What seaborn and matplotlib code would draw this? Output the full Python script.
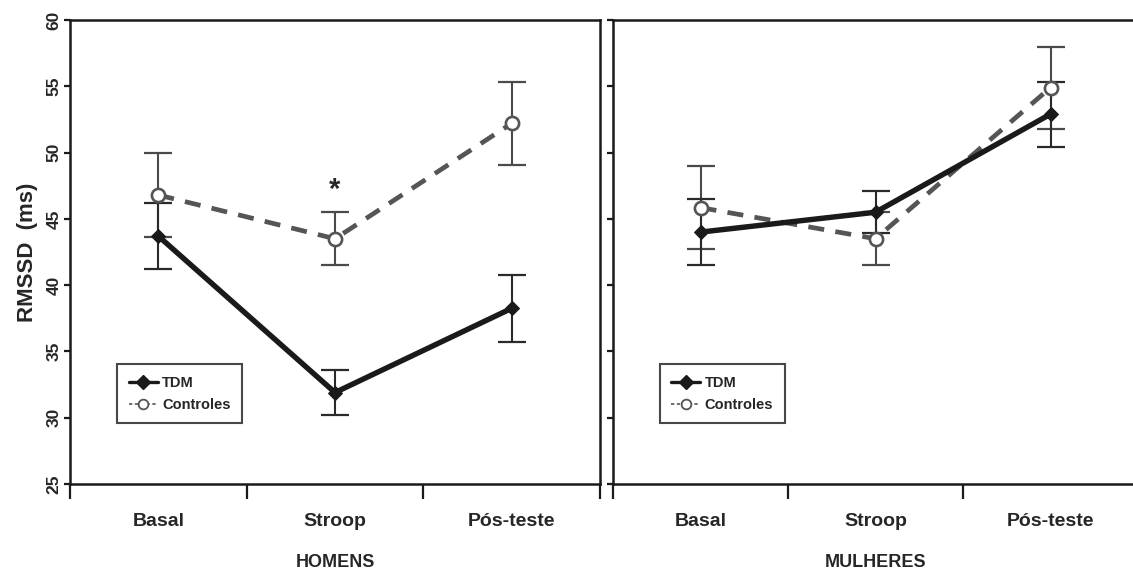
import numpy as np
import pandas as pd
import matplotlib.pyplot as plt
import seaborn as sns
from matplotlib.lines import Line2D

# categories and panel names
categories = ['Basal', 'Stroop', 'Pós-teste']
groups = ['HOMENS', 'MULHERES']

# RMSSD means and error bars
tdm_homens = [43.7, 31.9, 38.25]
tdm_homens_err = [2.5, 1.7, 2.55]
ctrl_homens = [46.8, 43.5, 52.2]
ctrl_homens_err = [3.2, 2.0, 3.1]

tdm_mulheres = [44.0, 45.5, 52.9]
tdm_mulheres_err = [2.5, 1.6, 2.45]
ctrl_mulheres = [45.85, 43.5, 54.9]
ctrl_mulheres_err = [3.1, 2.0, 3.1]

yticks = [25, 30, 35, 40, 45, 50, 55, 60]

sns.set_style('white')
plt.rcParams['font.family'] = ['Liberation Sans', 'DejaVu Sans']
plt.rcParams['font.weight'] = 'bold'

fig = plt.figure(figsize=(11.33, 5.73), dpi=100)
ax1 = fig.add_axes([70/1133, 89/573, 530/1133, 464/573])
ax2 = fig.add_axes([613/1133, 89/573, 525/1133, 464/573])

panels = [
    (ax1, tdm_homens, tdm_homens_err, ctrl_homens, ctrl_homens_err),
    (ax2, tdm_mulheres, tdm_mulheres_err, ctrl_mulheres, ctrl_mulheres_err),
]

dark = '#1a1a1a'
grey = '#555555'

for i, (ax, tdm, tdm_e, ctrl, ctrl_e) in enumerate(panels):
    df = pd.DataFrame({'fase': categories, 'TDM': tdm, 'Controles': ctrl})
    # error bars first, behind the lines
    ax.errorbar(df['fase'], df['Controles'], yerr=ctrl_e, fmt='none',
                ecolor='#4a4a4a', elinewidth=1.5, capsize=10, capthick=1.6, zorder=1)
    ax.errorbar(df['fase'], df['TDM'], yerr=tdm_e, fmt='none',
                ecolor='#2a2a2a', elinewidth=1.5, capsize=10, capthick=1.6, zorder=1)
    sns.lineplot(data=df, x='fase', y='Controles', ax=ax, sort=False,
                 color=grey, lw=3.4, linestyle=(0, (3.4, 2.4)),
                 marker='o', markersize=9.5, markerfacecolor='white',
                 markeredgecolor=grey, markeredgewidth=1.9, zorder=2)
    sns.lineplot(data=df, x='fase', y='TDM', ax=ax, sort=False,
                 color=dark, lw=3.9, marker='D', markersize=7.5,
                 markeredgecolor=dark, zorder=3)

    ax.set_xlim(-0.5, 2.5)
    ax.set_ylim(25, 60)
    ax.set_yticks(yticks)
    # boundaries as major ticks, names as minor ticks
    ax.set_xticks([-0.5, 0.5, 1.5, 2.5])
    ax.set_xticklabels([])
    ax.set_xticks([0, 1, 2], minor=True)
    ax.set_xticklabels(categories, minor=True, fontsize=14, fontweight='bold')
    ax.tick_params(axis='x', which='major', direction='out', length=11, width=1.6,
                   color=dark, bottom=True)
    ax.tick_params(axis='x', which='minor', length=0, pad=21)
    ax.tick_params(axis='y', direction='out', length=4, width=1.6, color=dark, left=True,
                   labelsize=12.5, labelrotation=90, pad=2)
    for lab in ax.get_yticklabels():
        lab.set_fontweight('bold')
        lab.set_va('center')
    ax.set_xlabel(groups[i], fontsize=13, fontweight='bold', labelpad=17)
    ax.set_ylabel('')
    for s in ax.spines.values():
        s.set_color(dark)
        s.set_linewidth(1.8)

    handles = [
        Line2D([], [], color=dark, lw=2.4, marker='D', markersize=7),
        Line2D([], [], color=grey, lw=1.2, linestyle=(0, (2, 1.5)), marker='o',
               markersize=7, markerfacecolor='white', markeredgecolor=grey,
               markeredgewidth=1.3),
    ]
    leg = ax.legend(handles, ['TDM', 'Controles'], loc='lower left',
                    bbox_to_anchor=(0.075, 0.115), frameon=True, fancybox=False,
                    handlelength=2.0, handletextpad=0.3, borderpad=0.8,
                    labelspacing=0.55, prop={'size': 10.5, 'weight': 'bold'})
    leg.get_frame().set_edgecolor(dark)
    leg.get_frame().set_linewidth(1.5)

ax2.tick_params(axis='y', labelleft=False)
ax2.spines['right'].set_visible(False)
ax1.set_ylabel('RMSSD  (ms)', fontsize=16, fontweight='bold', labelpad=6)

ax1.text(1, 47.2, '*', ha='center', va='center', fontsize=21, fontweight='bold')

fig.savefig('out.png', dpi=100)
